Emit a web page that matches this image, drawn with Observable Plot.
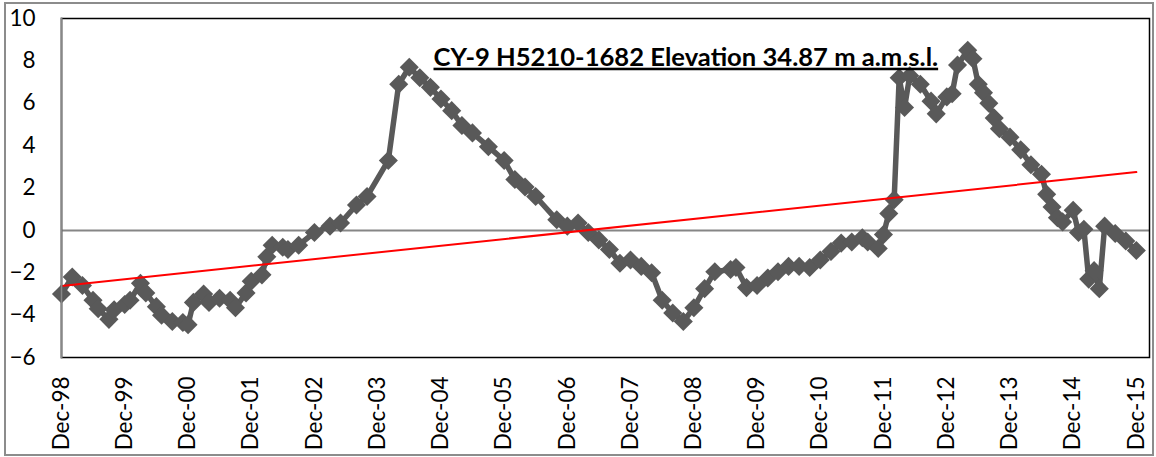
<!DOCTYPE html>
<html>
<head>
<meta charset="utf-8">
<script src="https://cdn.jsdelivr.net/npm/d3@7"></script>
<script src="https://cdn.jsdelivr.net/npm/@observablehq/plot@0.6"></script>
<style>
  body { margin: 0; background: #fff; }
  #wrap { position: relative; width: 1156px; height: 457px; overflow: hidden; }
  #border { position: absolute; left: 4px; top: 2px; width: 1146px; height: 450px; border: 2px solid #8c8c8c; pointer-events: none; }
  #chart { position: absolute; left: 0; top: 0; }
</style>
</head>
<body>
<div id="wrap"><div id="chart"></div><div id="border"></div></div>
<script>
// ---- data ----
const dates = [
  "1998-12","1999-02","1999-04","1999-06","1999-07","1999-09","1999-10","1999-12",
  "2000-01","2000-03","2000-04","2000-06","2000-07","2000-09","2000-11","2000-12",
  "2001-01","2001-03","2001-04","2001-06","2001-08","2001-09","2001-11","2001-12",
  "2002-02","2002-03","2002-04","2002-06","2002-07","2002-09","2002-12",
  "2003-03","2003-05","2003-08","2003-10",
  "2004-02","2004-04","2004-06","2004-08","2004-10","2004-12",
  "2005-02","2005-04","2005-06","2005-09","2005-12",
  "2006-02","2006-04","2006-06","2006-10","2006-12",
  "2007-02","2007-04","2007-06","2007-08","2007-10","2007-12",
  "2008-02","2008-04","2008-06","2008-08","2008-10","2008-12",
  "2009-02","2009-04","2009-07","2009-08","2009-10","2009-12",
  "2010-02","2010-04","2010-06","2010-08","2010-10","2010-12",
  "2011-02","2011-04","2011-06","2011-08","2011-09","2011-11","2011-12",
  "2012-01","2012-02","2012-03","2012-04","2012-05","2012-07","2012-09","2012-10","2012-12",
  "2013-01","2013-02","2013-04","2013-05","2013-06","2013-07","2013-08","2013-09","2013-10","2013-12",
  "2014-02","2014-04","2014-06","2014-07","2014-08","2014-09","2014-10","2014-12",
  "2015-01","2015-02","2015-03","2015-04","2015-05","2015-06","2015-08","2015-10","2015-12"
];
const levels = [
  -3.0,-2.2,-2.6,-3.3,-3.7,-4.2,-3.75,-3.5,
  -3.3,-2.5,-2.95,-3.6,-4.0,-4.3,-4.35,-4.45,
  -3.4,-3.0,-3.4,-3.2,-3.3,-3.65,-2.95,-2.4,
  -2.1,-1.25,-0.7,-0.8,-0.9,-0.7,-0.1,
  0.2,0.35,1.2,1.6,
  3.3,6.9,7.7,7.2,6.75,6.2,
  5.65,4.95,4.6,3.95,3.3,
  2.4,2.05,1.6,0.5,0.2,
  0.35,-0.1,-0.45,-0.9,-1.55,-1.4,
  -1.7,-2.0,-3.3,-3.9,-4.3,-3.65,
  -2.75,-1.95,-1.85,-1.75,-2.7,-2.6,
  -2.25,-1.95,-1.7,-1.7,-1.75,-1.4,
  -1.0,-0.6,-0.55,-0.35,-0.55,-0.85,-0.2,
  0.8,1.45,7.2,5.8,7.3,6.9,6.1,5.5,6.3,
  6.45,7.8,8.5,8.1,6.9,6.5,6.0,5.3,4.8,4.4,
  3.8,3.1,2.65,1.7,1.1,0.6,0.4,0.95,
  -0.1,0.05,-2.3,-1.9,-2.75,0.2,-0.15,-0.5,-0.95
];
const trendDates = ["1998-12", "2015-12"];
const trendLevels = [-2.62, 2.75];
const baseline = [0];
const xDomain = ["1998-12-01", "2016-02-15"];
const yDomain = [-6, 10];
const yTicks = [-6, -4, -2, 0, 2, 4, 6, 8, 10];
const xTicks = ["1998-12","1999-12","2000-12","2001-12","2002-12","2003-12","2004-12","2005-12","2006-12",
                "2007-12","2008-12","2009-12","2010-12","2011-12","2012-12","2013-12","2014-12","2015-12"];
const title = "CY-9 H5210-1682 Elevation 34.87 m a.m.s.l.";

// ---- build ----
const toDate = s => new Date(s.length === 7 ? s + "-01T00:00:00Z" : s + "T00:00:00Z");
const series = dates.map((d, i) => ({date: toDate(d), level: levels[i]}));
const trend = trendDates.map((d, i) => ({date: toDate(d), level: trendLevels[i]}));

const plot = Plot.plot({
  width: 1156,
  height: 457,
  marginLeft: 61,
  marginRight: 7,
  marginTop: 18,
  marginBottom: 100,
  style: {fontFamily: "Lato, 'Open Sans', sans-serif", fontSize: "22px", color: "#000", background: "transparent", overflow: "visible"},
  x: {type: "utc", domain: xDomain.map(toDate)},
  y: {domain: yDomain},
  marks: [
    Plot.ruleY(baseline, {stroke: "#868686", strokeWidth: 2}),
    Plot.line(series, {x: "date", y: "level", stroke: "#595959", strokeWidth: 5.5, curve: "linear"}),
    Plot.dot(series, {x: "date", y: "level", symbol: "diamond2", r: 8.6, fill: "#595959", stroke: "none"}),
    Plot.line(trend, {x: "date", y: "level", stroke: "#ff0000", strokeWidth: 2}),
    Plot.frame({stroke: "#000", strokeWidth: 1.5}),
    Plot.frame({anchor: "left", stroke: "#888", strokeWidth: 2}),
    Plot.axisY(yTicks, {tickSize: 0, tickPadding: 26, label: null, fontSize: 22.5}),
    Plot.axisX(xTicks.map(toDate), {tickSize: 0, tickPadding: 19, tickRotate: -90, tickFormat: d3.utcFormat("%b-%y"), label: null, fontSize: 22.5}),
    Plot.text([title], {frameAnchor: "top-left", dx: 372, dy: 29, textAnchor: "start", lineAnchor: "top", fontWeight: "bold", fontSize: 25.6, fill: "#000"})
  ]
});
document.getElementById("chart").appendChild(plot);
plot.querySelectorAll("text").forEach(t => {
  if (t.textContent === title) {
    t.style.textDecoration = "underline";
    t.style.textDecorationThickness = "2px";
  }
});
</script>
</body>
</html>
